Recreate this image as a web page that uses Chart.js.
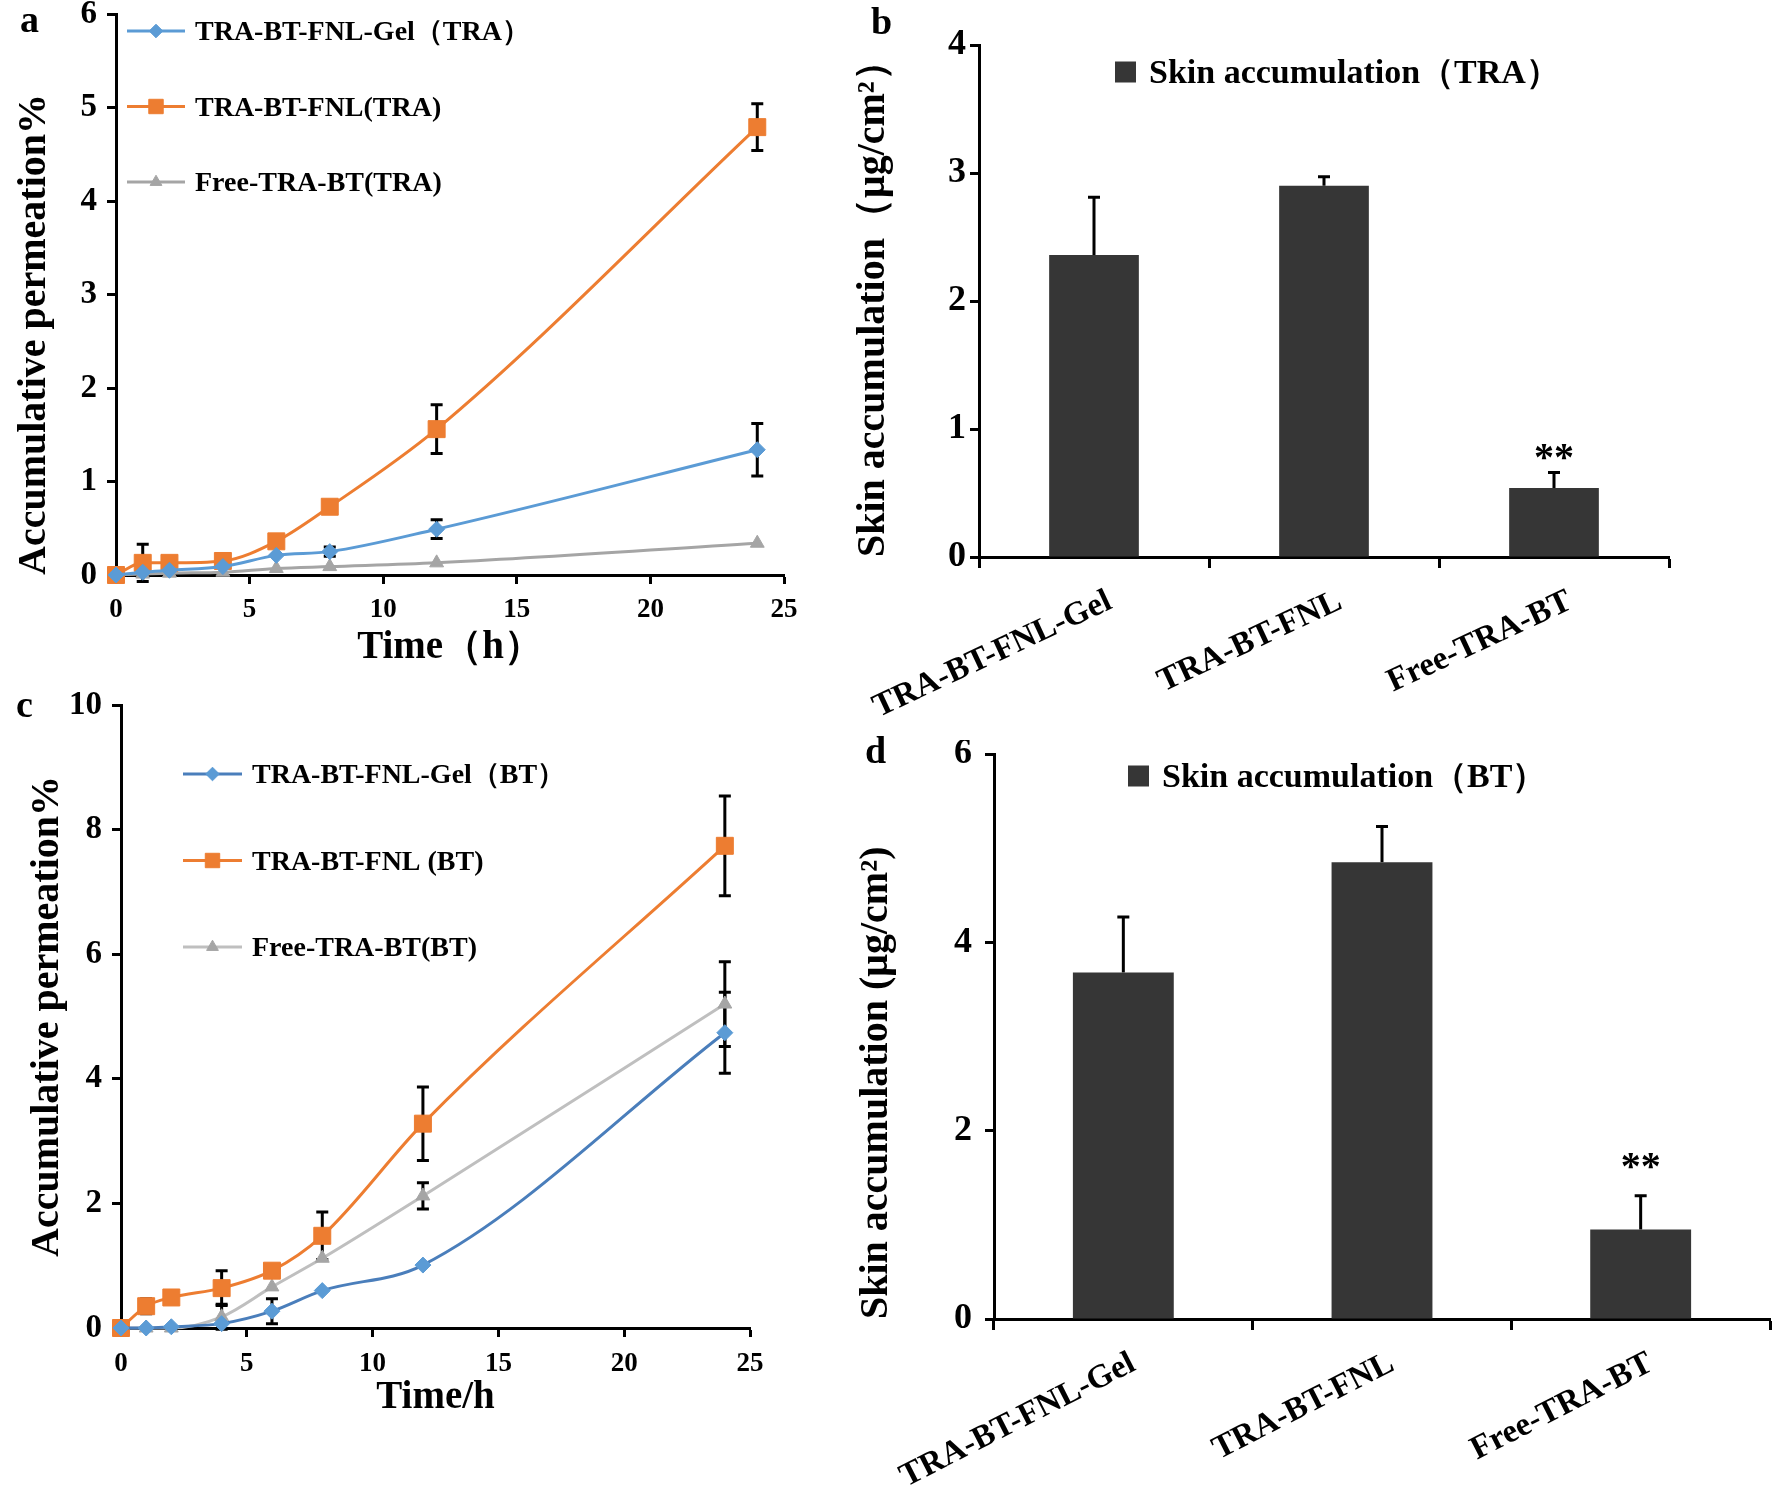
<!DOCTYPE html>
<html>
<head>
<meta charset="utf-8">
<script src="https://cdn.jsdelivr.net/npm/chart.js@4.4.0/dist/chart.umd.min.js"></script>
<style>
body { margin: 0; background: #fff; }
#page { position: relative; width: 1772px; height: 1498px; background: #fff; font-family: "Liberation Serif", "Times New Roman", serif; }
canvas { position: absolute; }
.tag { position: absolute; font-weight: bold; font-size: 38px; line-height: 1; color: #000; }
</style>
</head>
<body>
<div id="page">
	<canvas id="chartA" width="820" height="690" style="left:0px;top:0px"></canvas>
	<canvas id="chartB" width="922" height="730" style="left:850px;top:0px"></canvas>
	<canvas id="chartC" width="820" height="740" style="left:0px;top:690px"></canvas>
	<canvas id="chartD" width="922" height="758" style="left:850px;top:740px"></canvas>
	<div class="tag" style="left:20px;top:0px">a</div>
	<div class="tag" style="left:871px;top:2px">b</div>
	<div class="tag" style="left:16px;top:685px">c</div>
	<div class="tag" style="left:865px;top:731px">d</div>
</div>
<script>
var FONT = '"Liberation Serif", "Times New Roman", serif';

// sampling times (h)
var times = [0, 1, 2, 4, 6, 8, 12, 24];

// panel a - TRA permeation %
var traGel = [0, 0.03, 0.05, 0.09, 0.21, 0.25, 0.49, 1.34];
var traGelErr = [0, 0, 0, 0, 0, 0.05, 0.1, 0.28];
var traFnl = [0, 0.13, 0.13, 0.15, 0.36, 0.73, 1.56, 4.79];
var traFnlErr = [0, 0.2, 0, 0, 0, 0, 0.26, 0.25];
var traFree = [0, 0.01, 0.02, 0.03, 0.07, 0.09, 0.13, 0.34];
var traFreeErr = [0, 0, 0, 0, 0, 0, 0, 0];

// panel c - BT permeation %
var btGel = [0, 0, 0.02, 0.07, 0.27, 0.6, 1.01, 4.74];
var btGelErr = [0, 0, 0, 0, 0.2, 0, 0, 0.65];
var btFnl = [0, 0.35, 0.49, 0.64, 0.92, 1.48, 3.28, 7.74];
var btFnlErr = [0, 0.12, 0, 0.28, 0, 0.38, 0.59, 0.8];
var btFree = [0, 0, 0, 0.18, 0.66, 1.12, 2.12, 5.2];
var btFreeErr = [0, 0, 0, 0.2, 0, 0, 0.21, 0.68];

// panels b, d - skin accumulation (ug/cm2)
var groups = ['TRA-BT-FNL-Gel', 'TRA-BT-FNL', 'Free-TRA-BT'];
var skinTra = [2.36, 2.9, 0.54];
var skinTraErr = [0.45, 0.07, 0.12];
var skinBt = [3.68, 4.85, 0.95];
var skinBtErr = [0.59, 0.38, 0.36];

function points(vals) {
	return times.map(function(t, i) {
		return { x: t, y: vals[i] };
	});
}

// fixed axis box so the plot area lands where it should
function fixSize(size) {
	return function(scale) {
		if (scale.isHorizontal()) {
			scale.height = size;
		} else {
			scale.width = size;
		}
		scale.paddingLeft = 0;
		scale.paddingRight = 0;
		scale.paddingTop = 0;
		scale.paddingBottom = 0;
	};
}

var errorBars = {
	id: 'errorBars',
	beforeDatasetsDraw: function(chart) {
		var ctx = chart.ctx;
		var yScale = chart.scales.y;
		chart.data.datasets.forEach(function(ds, i) {
			if (!ds.errors) return;
			var meta = chart.getDatasetMeta(i);
			ctx.save();
			ctx.strokeStyle = '#000';
			ctx.lineWidth = 3;
			meta.data.forEach(function(el, j) {
				var e = ds.errors[j];
				if (!e) return;
				var v = typeof ds.data[j] === 'object' ? ds.data[j].y : ds.data[j];
				var top = yScale.getPixelForValue(v + e);
				var bottom = ds.upOnly ? yScale.getPixelForValue(v) : yScale.getPixelForValue(v - e);
				var cap = ds.capWidth || 6;
				ctx.beginPath();
				ctx.moveTo(el.x, top);
				ctx.lineTo(el.x, bottom);
				ctx.moveTo(el.x - cap, top);
				ctx.lineTo(el.x + cap, top);
				if (!ds.upOnly) {
					ctx.moveTo(el.x - cap, bottom);
					ctx.lineTo(el.x + cap, bottom);
				}
				ctx.stroke();
			});
			ctx.restore();
		});
	}
};

var panelLegend = {
	id: 'panelLegend',
	afterDraw: function(chart, args, opts) {
		if (!opts || opts.left === undefined) return;
		var ctx = chart.ctx;
		var area = chart.chartArea;
		ctx.save();
		ctx.font = 'bold ' + opts.size + 'px ' + FONT;
		ctx.textBaseline = 'middle';
		ctx.textAlign = 'left';
		chart.data.datasets.forEach(function(ds, i) {
			var y = area.top + opts.top + i * (opts.step || 0);
			var x0 = area.left + opts.left;
			if (opts.box) {
				ctx.fillStyle = ds.backgroundColor;
				ctx.fillRect(x0, y - opts.box / 2, opts.box, opts.box);
				ctx.fillStyle = '#000';
				ctx.fillText(ds.label, x0 + opts.box + 13, y + 2);
				return;
			}
			ctx.strokeStyle = ds.borderColor;
			ctx.lineWidth = 3;
			ctx.beginPath();
			ctx.moveTo(x0, y);
			ctx.lineTo(x0 + opts.lineLen, y);
			ctx.stroke();
			if (Chart.helpers && Chart.helpers.drawPoint) {
				ctx.fillStyle = ds.pointBackgroundColor;
				ctx.strokeStyle = ds.pointBackgroundColor;
				ctx.lineWidth = 1;
				Chart.helpers.drawPoint(ctx, {
					pointStyle: ds.pointStyle,
					radius: ds.pointRadius * 0.85,
					rotation: 0,
					borderWidth: 1
				}, x0 + opts.lineLen / 2, y);
			}
			ctx.fillStyle = '#000';
			ctx.fillText(ds.label, x0 + opts.lineLen + 10, y + 2);
		});
		ctx.restore();
	}
};

var stars = {
	id: 'stars',
	afterDatasetsDraw: function(chart, args, opts) {
		if (!opts || opts.index === undefined) return;
		var ds = chart.data.datasets[0];
		var el = chart.getDatasetMeta(0).data[opts.index];
		var top = chart.scales.y.getPixelForValue(ds.data[opts.index] + ds.errors[opts.index]);
		var ctx = chart.ctx;
		ctx.save();
		ctx.font = 'bold 40px ' + FONT;
		ctx.fillStyle = '#000';
		ctx.textAlign = 'center';
		ctx.textBaseline = 'alphabetic';
		ctx.fillText('**', el.x, top + opts.offset);
		ctx.restore();
	}
};

function axisStyle() {
	return {
		border: { display: true, color: '#000', width: 3 },
		grid: { drawOnChartArea: false, drawTicks: true, tickLength: 9, tickWidth: 3, tickColor: '#000', color: '#000' }
	};
}

function lineChart(id, cfg) {
	var yAxis = axisStyle();
	yAxis.min = 0;
	yAxis.max = cfg.yMax;
	yAxis.afterFit = fixSize(cfg.yWidth);
	yAxis.ticks = { stepSize: cfg.yStep, color: '#000', padding: cfg.yTickPad, font: { family: FONT, size: 33, weight: 'bold', lineHeight: 1 } };
	yAxis.title = { display: true, text: 'Accumulative permeation%', color: '#000', align: cfg.yAlign, padding: { top: cfg.yTitlePad, bottom: 0 }, font: { family: FONT, size: 40, weight: 'bold' } };

	var xAxis = axisStyle();
	xAxis.type = 'linear';
	xAxis.min = 0;
	xAxis.max = 25;
	xAxis.afterFit = fixSize(cfg.xHeight);
	xAxis.ticks = { stepSize: 5, color: '#000', padding: cfg.xTickPad, font: { family: FONT, size: 27, weight: 'bold' } };
	xAxis.title = { display: true, text: cfg.xTitle, color: '#000', padding: { top: 0, bottom: cfg.xTitlePad }, font: { family: FONT, size: 39, weight: 'bold' } };

	var sets = cfg.series.map(function(s) {
		return {
			label: s.label,
			data: points(s.values),
			errors: s.errors,
			capWidth: 6,
			borderColor: s.line,
			backgroundColor: s.marker,
			pointBackgroundColor: s.marker,
			pointBorderColor: s.marker,
			pointBorderWidth: 1,
			pointStyle: s.style,
			pointRadius: s.radius,
			borderWidth: 3,
			cubicInterpolationMode: 'monotone',
			clip: false
		};
	});

	return new Chart(document.getElementById(id), {
		type: 'line',
		data: { datasets: sets },
		options: {
			responsive: false,
			animation: false,
			devicePixelRatio: 1,
			layout: { padding: cfg.padding },
			scales: { x: xAxis, y: yAxis },
			plugins: {
				legend: { display: false },
				tooltip: { enabled: false },
				panelLegend: cfg.legend
			}
		},
		plugins: [errorBars, panelLegend]
	});
}

function barChart(id, cfg) {
	var yAxis = axisStyle();
	yAxis.min = 0;
	yAxis.max = cfg.yMax;
	yAxis.afterFit = fixSize(cfg.yWidth);
	yAxis.ticks = { stepSize: cfg.yStep, color: '#000', padding: cfg.yTickPad, font: { family: FONT, size: 36, weight: 'bold', lineHeight: 1 } };
	yAxis.title = { display: true, text: cfg.yTitle, color: '#000', align: 'start', padding: { top: cfg.yTitlePad, bottom: 0 }, font: { family: FONT, size: 40, weight: 'bold' } };

	var xAxis = axisStyle();
	xAxis.afterFit = fixSize(cfg.xHeight);
	xAxis.grid.offset = true;
	xAxis.grid.tickLength = 11;
	xAxis.ticks = { color: '#000', autoSkip: false, minRotation: cfg.rot, maxRotation: cfg.rot, padding: 14, labelOffset: cfg.labelShift, font: { family: FONT, size: 33, weight: 'bold' } };

	return new Chart(document.getElementById(id), {
		type: 'bar',
		data: {
			labels: groups,
			datasets: [{
				label: cfg.label,
				data: cfg.values,
				errors: cfg.errors,
				upOnly: true,
				capWidth: 6,
				backgroundColor: '#363636',
				borderWidth: 0,
				barPercentage: 0.39,
				categoryPercentage: 1
			}]
		},
		options: {
			responsive: false,
			animation: false,
			devicePixelRatio: 1,
			layout: { padding: cfg.padding },
			scales: { x: xAxis, y: yAxis },
			plugins: {
				legend: { display: false },
				tooltip: { enabled: false },
				panelLegend: cfg.legend,
				stars: cfg.stars
			}
		},
		plugins: [errorBars, panelLegend, stars]
	});
}

lineChart('chartA', {
	yMax: 6, yStep: 1, yWidth: 116, xHeight: 115,
	yTickPad: 10, yTitlePad: 11, yAlign: 'start',
	xTickPad: 10, xTitle: 'Time（h）', xTitlePad: 19,
	padding: { left: 0, right: 36, top: 14, bottom: 0 },
	legend: { left: 11, top: 17, step: 75.5, lineLen: 58, size: 28 },
	series: [
		{ label: 'TRA-BT-FNL-Gel（TRA）', values: traGel, errors: traGelErr, line: '#5B9BD5', marker: '#5B9BD5', style: 'rectRot', radius: 8 },
		{ label: 'TRA-BT-FNL(TRA)', values: traFnl, errors: traFnlErr, line: '#ED7D31', marker: '#ED7D31', style: 'rect', radius: 12 },
		{ label: 'Free-TRA-BT(TRA)', values: traFree, errors: traFreeErr, line: '#A5A5A5', marker: '#A5A5A5', style: 'triangle', radius: 8 }
	]
});

lineChart('chartC', {
	yMax: 10, yStep: 2, yWidth: 121, xHeight: 102,
	yTickPad: 10, yTitlePad: 24, yAlign: 'center',
	xTickPad: 11, xTitle: 'Time/h', xTitlePad: 9,
	padding: { left: 0, right: 70, top: 15, bottom: 0 },
	legend: { left: 62, top: 69, step: 86.5, lineLen: 59, size: 28 },
	series: [
		{ label: 'TRA-BT-FNL-Gel（BT）', values: btGel, errors: btGelErr, line: '#4A7EBB', marker: '#5B9BD5', style: 'rectRot', radius: 8 },
		{ label: 'TRA-BT-FNL (BT)', values: btFnl, errors: btFnlErr, line: '#ED7D31', marker: '#ED7D31', style: 'rect', radius: 12 },
		{ label: 'Free-TRA-BT(BT)', values: btFree, errors: btFreeErr, line: '#BFBFBF', marker: '#A5A5A5', style: 'triangle', radius: 8 }
	]
});

barChart('chartB', {
	yMax: 4, yStep: 1, yWidth: 129, xHeight: 173,
	yTickPad: 4, yTitlePad: 0,
	yTitle: 'Skin accumulation（μg/cm²）',
	rot: 25, labelShift: 16,
	padding: { left: 0, right: 103, top: 45, bottom: 0 },
	label: 'Skin accumulation（TRA）',
	values: skinTra, errors: skinTraErr,
	legend: { left: 136, top: 27, box: 21, size: 34 },
	stars: { index: 2, offset: -3 }
});

barChart('chartD', {
	yMax: 6, yStep: 2, yWidth: 144, xHeight: 179,
	yTickPad: 13, yTitlePad: 3,
	yTitle: 'Skin accumulation (μg/cm²)',
	rot: 27, labelShift: 10,
	padding: { left: 0, right: 2, top: 14, bottom: 0 },
	label: 'Skin accumulation（BT）',
	values: skinBt, errors: skinBtErr,
	legend: { left: 134, top: 22, box: 21, size: 34 },
	stars: { index: 2, offset: -17 }
});
</script>
</body>
</html>
